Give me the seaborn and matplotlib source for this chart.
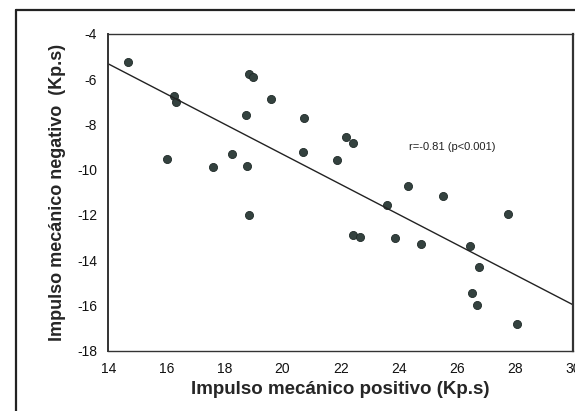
import matplotlib
matplotlib.use("Agg")
import matplotlib.pyplot as plt
import seaborn as sns
import pandas as pd
from matplotlib.lines import Line2D

# impulso mecanico positivo / negativo (Kp.s)
positivo = [14.68, 16.26, 16.33, 16.02, 17.59, 18.26, 18.79, 18.75, 18.83, 18.99,
            19.61, 18.86, 20.75, 20.69, 22.17, 22.43, 21.88, 24.33, 25.51, 23.60,
            27.77, 22.41, 22.68, 23.87, 24.77, 26.44, 26.78, 26.52, 26.71, 28.06]
negativo = [-5.22, -6.72, -7.00, -9.51, -9.90, -9.29, -9.82, -7.59, -5.76, -5.88,
            -6.88, -11.98, -7.72, -9.20, -8.56, -8.82, -9.59, -10.71, -11.15, -11.56,
            -11.97, -12.87, -12.96, -13.02, -13.30, -13.37, -14.32, -15.43, -15.98, -16.83]
x_ticks = [14, 16, 18, 20, 22, 24, 26, 28, 30]
y_ticks = [-4, -6, -8, -10, -12, -14, -16, -18]
r_text = "r=-0.81 (p<0.001)"

df = pd.DataFrame({"pos": positivo, "neg": negativo})

sns.set_style("white")
plt.rcParams["font.family"] = ["Liberation Sans", "DejaVu Sans"]

fig = plt.figure(figsize=(5.75, 4.11), dpi=100)
ax = fig.add_axes([0.1883, 0.1467, 0.8082, 0.7706])
ax.set_xlim(14, 30)
ax.set_ylim(-18, -4)

sns.regplot(data=df, x="pos", y="neg", ax=ax, ci=None, truncate=False,
            scatter_kws=dict(s=34, color="#34423f", edgecolor="#1f2a28", linewidths=0.6, alpha=1),
            line_kws=dict(color="#222222", lw=1.0))

ax.set_xlim(14, 30)
ax.set_ylim(-18, -4)
ax.set_xticks(x_ticks)
ax.set_yticks(y_ticks)
ax.set_xticklabels([str(t) for t in x_ticks], fontsize=10)
ax.set_yticklabels([str(t) for t in y_ticks], fontsize=10)
ax.tick_params(direction="out", length=4, width=1, color="#222222", pad=4, labelcolor="#111111")
for side in ["left", "bottom", "top", "right"]:
    ax.spines[side].set_color("#333333")
    ax.spines[side].set_linewidth(1.0)
ax.spines["left"].set_linewidth(1.4)
ax.spines["right"].set_linewidth(1.6)

ax.set_xlabel("Impulso mecánico positivo (Kp.s)", fontsize=13.5, fontweight="bold", labelpad=4)
ax.set_ylabel("Impulso mecánico negativo  (Kp.s)", fontsize=13, fontweight="bold", labelpad=8)

ax.text(24.34, -8.98, r_text, fontsize=8, va="center", ha="left", color="#222222")

# outer frame of the scanned figure
fig.add_artist(Line2D([16/575, 1], [1 - 10/411, 1 - 10/411], transform=fig.transFigure,
                      color="#222222", lw=1.6))
fig.add_artist(Line2D([16/575, 16/575], [0, 1 - 10/411], transform=fig.transFigure,
                      color="#222222", lw=1.6))

fig.savefig("out.png", dpi=100)
